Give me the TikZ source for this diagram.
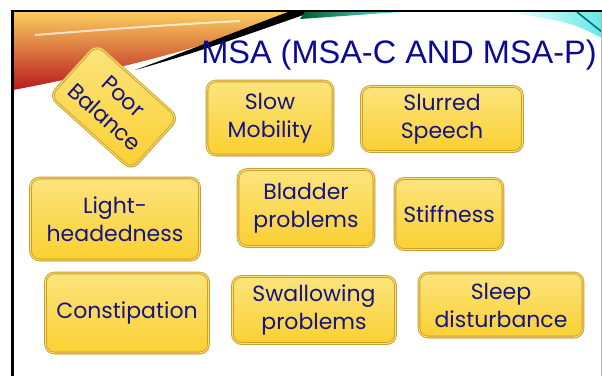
\documentclass[tikz,border=0pt]{standalone}
\usepackage{fontspec}
\setmainfont{Poppins}
\newfontfamily\titlefont{Liberation Sans}
\usetikzlibrary{shadows}
\definecolor{navytext}{RGB}{20,20,130}
\definecolor{titleblue}{RGB}{10,10,150}
\definecolor{goldtop}{RGB}{252,228,125}
\definecolor{goldbot}{RGB}{250,208,50}
\definecolor{goldrim}{RGB}{200,160,45}
\definecolor{goldlight}{RGB}{250,225,120}
\definecolor{swooshtop}{RGB}{250,205,95}
\definecolor{swooshmid}{RGB}{240,95,35}
\definecolor{swooshbot}{RGB}{185,25,30}
\definecolor{tealdark}{RGB}{0,110,110}
\definecolor{greendark}{RGB}{0,90,40}
\definecolor{cyanlight}{RGB}{100,232,232}
\tikzset{
    symptom-box/.style = {draw=goldrim, line width=0.9pt, double=goldlight, double distance=0.9pt, rounded corners=9pt, top color=goldtop, bottom color=goldbot, text=navytext, align=center, inner sep=2pt, font=\fontsize{22}{28}\selectfont, drop shadow={shadow xshift=1pt, shadow yshift=-1.5pt, opacity=0.3}},
    slide-title/.style = {text=titleblue, font=\titlefont\fontsize{32.5}{36}\selectfont, inner sep=0pt},
}
\begin{document}
\begin{tikzpicture}[x=1pt, y=-1pt]
\useasboundingbox (0,0) rectangle (602,376);
% swoosh at the top
\shade[top color=swooshtop, middle color=swooshmid, bottom color=swooshbot]
    (13,12) -- (300,12) .. controls (230,40) and (120,70) .. (13,90) -- cycle;
\draw[white, line width=2pt, opacity=0.7] (35,35) .. controls (110,29) and (180,24) .. (240,21);
\fill[black] (135,70) .. controls (190,50) and (245,28) .. (288,12) -- (312,12) .. controls (260,30) and (200,52) .. (135,70) -- cycle;
\shade[left color=greendark, right color=cyanlight] (305,12) -- (400,12) -- (300,19) -- cycle;
\shade[left color=white, right color=cyanlight] (505,12) -- (602,12) -- (602,38) .. controls (570,22) .. (505,12) -- cycle;
\draw[tealdark, line width=1.5pt] (577,12) -- (602,32);
% frame
\draw[line width=3pt] (12.5,376) -- (12.5,11);
\draw[line width=2pt] (11,11) -- (602,11);
\draw[gray!60, line width=0.8pt] (601,12) -- (601,376);
% title
\node[slide-title, anchor=base] (title) at (399,63) {MSA (MSA-C AND MSA-P)};
% symptoms
\node[symptom-box, rotate=-42, minimum width=110pt, minimum height=70pt] (balance) at (114,107) {Poor\\Balance};
\node[symptom-box, minimum width=126pt, minimum height=74pt] (mobility) at (270,118) {Slow\\Mobility};
\node[symptom-box, minimum width=161pt, minimum height=65pt] (speech) at (442,119) {Slurred\\Speech};
\node[symptom-box, minimum width=169pt, minimum height=82pt] (light) at (115,219) {Light-\\headedness};
\node[symptom-box, minimum width=136pt, minimum height=77pt] (bladder) at (306,208) {Bladder\\problems};
\node[symptom-box, minimum width=108pt, minimum height=71pt] (stiff) at (449,214) {Stiffness};
\node[symptom-box, minimum width=163pt, minimum height=80pt] (constip) at (127,313) {Constipation};
\node[symptom-box, minimum width=163pt, minimum height=67pt] (swallow) at (314,310) {Swallowing\\problems};
\node[symptom-box, minimum width=164pt, minimum height=64pt] (sleep) at (501,305) {Sleep\\disturbance};
\end{tikzpicture}
\end{document}
